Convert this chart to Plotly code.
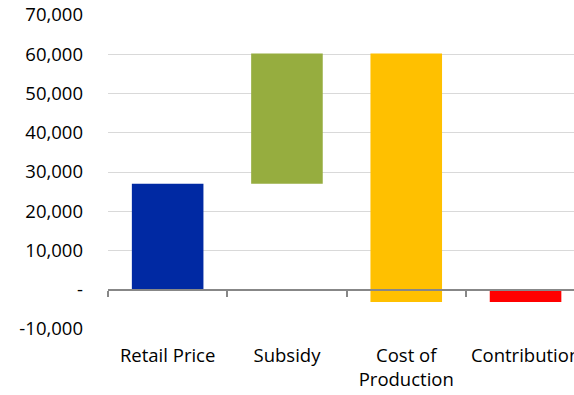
import numpy as np
import plotly.graph_objects as go

# Waterfall steps (per-vehicle economics)
categories = ["Retail Price", "Subsidy", "Cost of<br>Production", "Contribution"]
steps = [27000, 33200, -63300]          # relative movements
bar_colors = ["#0029A3", "#96AD3F", "#FFC000", "#FF0000"]

y_ticks = [-10000, 0, 10000, 20000, 30000, 40000, 50000, 60000, 70000]
y_tick_text = ["-10,000", "-", "10,000", "20,000", "30,000", "40,000", "50,000", "60,000", "70,000"]

# Bar extents: each step floats on the running total, final bar is the total from zero
running = np.concatenate([[0], np.cumsum(steps)])
total = running[-1]
bases = list(running[:-1]) + [0]
heights = list(steps) + [total]
xpos = list(range(len(categories)))

fig = go.Figure()
fig.add_trace(go.Bar(
    x=xpos, y=heights, base=bases,
    marker=dict(color=bar_colors, line=dict(width=0)),
    width=0.6, hoverinfo="skip", showlegend=False,
))
# carrier trace for the zero axis with category-boundary ticks
fig.add_trace(go.Scatter(x=[0], y=[0], xaxis="x2", mode="markers",
                         marker=dict(opacity=0), hoverinfo="skip", showlegend=False))

ymin, ymax = -10000, 70000
zero_pos = (0 - ymin) / (ymax - ymin)
plot_w = 574 - 108
cat_px = 119.3
xr = [-0.5, -0.5 + plot_w / cat_px]

font = dict(family="Open Sans", size=18.5, color="#000000")

fig.update_layout(
    width=574, height=395,
    margin=dict(l=108, r=0, t=15, b=66, autoexpand=False),
    paper_bgcolor="white", plot_bgcolor="white",
    font=font,
    bargap=0.4,
    xaxis=dict(
        range=xr, tickvals=xpos, ticktext=categories, automargin=False,
        showgrid=False, zeroline=False, showline=False, ticks="",
        ticklabelstandoff=13, tickfont=font, ticklabeloverflow="allow",
    ),
    xaxis2=dict(
        overlaying="x", anchor="free", position=zero_pos, side="bottom",
        range=xr, tickvals=[-0.5, 0.5, 1.5, 2.5, 3.5], showticklabels=False,
        automargin=False,
        showgrid=False, zeroline=False, showline=True, linecolor="#878787", linewidth=1.5,
        ticks="outside", ticklen=6, tickwidth=1.5, tickcolor="#878787",
    ),
    yaxis=dict(
        range=[ymin, ymax], tickvals=y_ticks, ticktext=y_tick_text, automargin=False,
        showgrid=True, gridcolor="#D9D9D9", gridwidth=1,
        zeroline=False, showline=False, ticks="",
        ticklabelstandoff=24, tickfont=font,
    ),
)

fig.write_html("out.html")
